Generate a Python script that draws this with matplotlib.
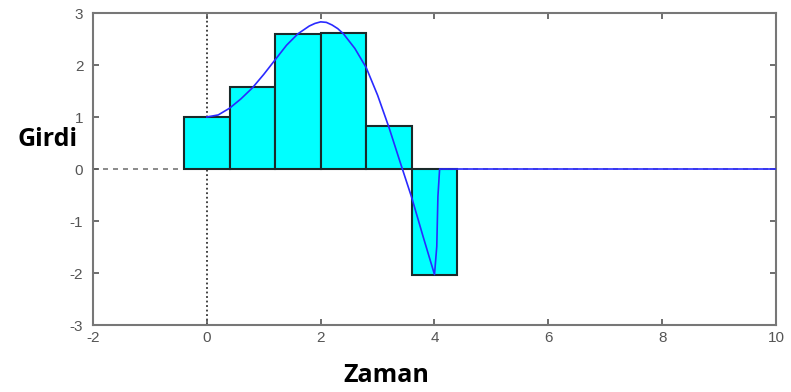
import matplotlib
matplotlib.use("Agg")
import matplotlib.pyplot as plt

plt.rcParams["font.family"] = ["Liberation Sans", "DejaVu Sans"]
plt.rcParams["axes.unicode_minus"] = False

# sample-and-hold bars (centres, heights)
bar_t = [0.0, 0.8, 1.6, 2.4, 3.2, 4.0]
bar_h = [1.0, 1.58, 2.6, 2.62, 0.82, -2.03]
bar_w = 0.8

# continuous input signal
sig_t = [0.0, 0.2, 0.4, 0.6, 0.8, 1.0, 1.2, 1.4, 1.6, 1.8, 1.9, 2.0, 2.1,
         2.2, 2.3, 2.4, 2.6, 2.8, 3.0, 3.2, 3.4, 3.6, 3.8, 4.0, 4.04, 4.06,
         4.09, 10.0]
sig_x = [1.0, 1.04, 1.17, 1.35, 1.56, 1.82, 2.10, 2.38, 2.60, 2.75, 2.80, 2.83, 2.82,
         2.77, 2.70, 2.60, 2.32, 1.95, 1.42, 0.80, 0.12, -0.55, -1.30, -2.03, -1.49, -0.53,
         0.0, 0.0]

xticks = [-2, 0, 2, 4, 6, 8, 10]
yticks = [-3, -2, -1, 0, 1, 2, 3]

fig = plt.figure(figsize=(7.91, 3.92), dpi=100)
ax = fig.add_axes([0.1176, 0.1709, 0.8634, 0.7959])

ax.axhline(0, color="#777777", ls=(0, (3, 3)), lw=1.2, zorder=1)
ax.axvline(0, color="#333333", ls=(0, (1, 1.5)), lw=1.3, zorder=1)

ax.bar(bar_t, bar_h, width=bar_w, color="#00ffff", edgecolor="#1a2a2a",
       linewidth=1.5, zorder=2)
ax.plot(sig_t, sig_x, color="#2a2aff", lw=1.2, zorder=3)

ax.set_xlim(-2, 10)
ax.set_ylim(-3, 3)
ax.set_xticks(xticks)
ax.set_yticks(yticks)
ax.tick_params(direction="in", length=4, width=1.2, colors="#555555",
               labelsize=11, top=True, right=True)
ax.tick_params(axis="x", pad=4)
ax.tick_params(axis="y", pad=7)
for s in ax.spines.values():
    s.set_color("#777777")
    s.set_linewidth(1.5)

fig.text(0.060, 0.643, "Girdi", fontsize=18, fontweight="bold",
         family="Open Sans", ha="center", va="center")
fig.text(0.488, 0.041, "Zaman", fontsize=18, fontweight="bold",
         family="Open Sans", ha="center", va="center")

fig.savefig("out.png", dpi=100)
